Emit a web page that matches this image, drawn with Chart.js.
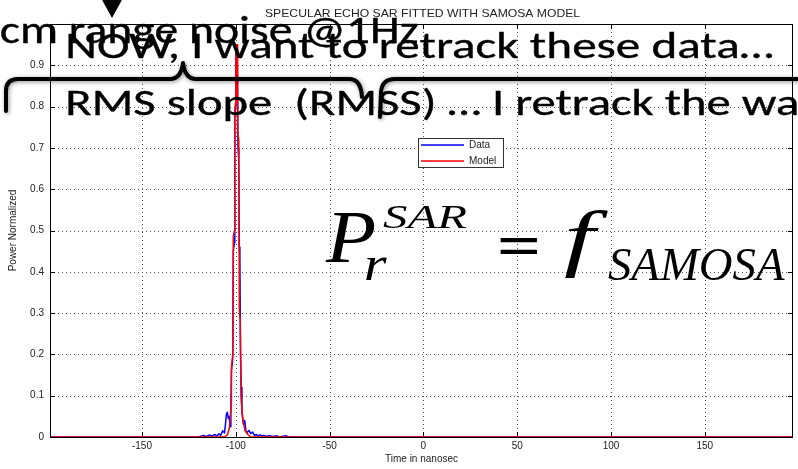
<!DOCTYPE html>
<html>
<head>
<meta charset="utf-8">
<script src="https://cdn.jsdelivr.net/npm/chart.js@4.4.1/dist/chart.umd.min.js"></script>
<style>
  html, body { margin: 0; padding: 0; background: #fff; }
  canvas { display: block; }
</style>
</head>
<body>
<canvas id="c" width="798" height="469"></canvas>
<script>
// Measured echo (time in ns, normalized power)
const dataTime = [-199, -120, -117, -116, -114, -113, -111, -110, -109, -108, -107, -106, -105.5, -105, -104.5, -104, -103.5, -103, -102.6, -102.3, -101.6, -101.3, -100.7, -100.5, -100.1, -99.9, -99.4, -99.1, -98.8, -98.4, -98.1, -97.8, -97.5, -97.1, -96.7, -96.3, -95.8, -95.2, -94.6, -94, -93, -92, -91, -90, -89, -88, -87, -86, -85, -84, -82, -80, -78, -77, -73, -72, 197];
const dataPower = [0, 0, 0.004, 0.001, 0.005, 0.002, 0.006, 0.002, 0.008, 0.004, 0.015, 0.01, 0.03, 0.055, 0.06, 0.045, 0.05, 0.025, 0.06, 0.16, 0.19, 0.45, 0.47, 0.78, 0.8, 0.93, 0.95, 0.89, 0.7, 0.67, 0.46, 0.44, 0.22, 0.12, 0.06, 0.045, 0.03, 0.04, 0.015, 0.01, 0.016, 0.008, 0.012, 0.004, 0.006, 0.003, 0.005, 0.002, 0.004, 0.002, 0.003, 0.001, 0.003, 0, 0.003, 0, 0];

// SAMOSA model fit
const modelTime = [-199, -106, -104.5, -103.5, -103, -102.5, -102.3, -101.6, -101.3, -100.7, -100.5, -100.1, -99.9, -99.3, -99.0, -98.4, -98.1, -97.6, -97.2, -96.6, -96, -95, -93.5, -92, 197];
const modelPower = [0, 0, 0.005, 0.02, 0.04, 0.08, 0.17, 0.2, 0.485, 0.5, 0.79, 0.81, 0.95, 0.95, 0.74, 0.72, 0.31, 0.28, 0.1, 0.06, 0.035, 0.015, 0.006, 0, 0];

const xTickValues = [-150, -100, -50, 0, 50, 100, 150];
const yTickValues = [0, 0.1, 0.2, 0.3, 0.4, 0.5, 0.6, 0.7, 0.8, 0.9];
const seriesNames = ['Data', 'Model'];
const seriesColors = ['#0000ff', '#ff0000'];

const chartTitle = 'SPECULAR ECHO SAR FITTED WITH SAMOSA MODEL';
const xAxisTitle = 'Time in nanosec';
const yAxisTitle = 'Power Normalized';

const slideLines = [
  'cm range noise @1Hz',
  'NOW, I want to retrack these data…',
  'RMS slope  (RMSS) … I retrack the waveforms'
];

Chart.defaults.font.family = "'Liberation Sans', Arial, sans-serif";

const slideFont = "'Carlito', 'Lato', 'Open Sans', sans-serif";
const mathFont = "'Liberation Serif', 'Times New Roman', serif";

// Draw text so that its ink spans x0..x1 horizontally (measured on `ref`)
function inkFitX(ctx, text, font, x0, x1, baseline, ref, weight) {
  ctx.save();
  ctx.font = font;
  const m = ctx.measureText(ref || text);
  const w = m.actualBoundingBoxLeft + m.actualBoundingBoxRight;
  const s = (x1 - x0) / w;
  ctx.textAlign = 'left';
  ctx.textBaseline = 'alphabetic';
  ctx.translate(x0 + m.actualBoundingBoxLeft * s, baseline);
  ctx.scale(s, 1);
  ctx.fillText(text, 0, 0);
  if (weight) {
    ctx.lineWidth = weight;
    ctx.strokeStyle = ctx.fillStyle;
    ctx.lineJoin = 'round';
    ctx.strokeText(text, 0, 0);
  }
  ctx.restore();
}

// Draw text so that its ink fills the box (x0,y0)-(x1,y1)
function inkBox(ctx, text, font, x0, y0, x1, y1) {
  ctx.save();
  ctx.font = font;
  const m = ctx.measureText(text);
  const w = m.actualBoundingBoxLeft + m.actualBoundingBoxRight;
  const h = m.actualBoundingBoxAscent + m.actualBoundingBoxDescent;
  const sx = (x1 - x0) / w;
  const sy = (y1 - y0) / h;
  ctx.textAlign = 'left';
  ctx.textBaseline = 'alphabetic';
  ctx.translate(x0 + m.actualBoundingBoxLeft * sx, y0 + m.actualBoundingBoxAscent * sy);
  ctx.scale(sx, sy);
  ctx.fillText(text, 0, 0);
  ctx.restore();
}

// Dotted grid, axes box and inward tick marks
const axesFrame = {
  id: 'axesFrame',
  beforeDatasetsDraw(chart) {
    const { ctx, chartArea: a, scales: { x, y } } = chart;
    ctx.save();
    ctx.strokeStyle = '#555';
    ctx.lineWidth = 1;
    ctx.setLineDash([1, 3]);
    xTickValues.forEach(v => {
      const px = Math.round(x.getPixelForValue(v)) + 0.5;
      ctx.beginPath(); ctx.moveTo(px, a.top); ctx.lineTo(px, a.bottom); ctx.stroke();
    });
    yTickValues.forEach(v => {
      if (v === 0) return;
      const py = Math.round(y.getPixelForValue(v)) + 0.5;
      ctx.beginPath(); ctx.moveTo(a.left, py); ctx.lineTo(a.right, py); ctx.stroke();
    });
    ctx.setLineDash([]);
    ctx.strokeStyle = '#000';
    xTickValues.forEach(v => {
      const px = Math.round(x.getPixelForValue(v)) + 0.5;
      ctx.beginPath();
      ctx.moveTo(px, a.bottom); ctx.lineTo(px, a.bottom - 5);
      ctx.moveTo(px, a.top); ctx.lineTo(px, a.top + 5);
      ctx.stroke();
    });
    yTickValues.forEach(v => {
      const py = Math.round(y.getPixelForValue(v)) + 0.5;
      ctx.beginPath();
      ctx.moveTo(a.left, py); ctx.lineTo(a.left + 5, py);
      ctx.moveTo(a.right, py); ctx.lineTo(a.right - 5, py);
      ctx.stroke();
    });
    ctx.restore();
  },
  afterDatasetsDraw(chart) {
    const { ctx, chartArea: a } = chart;
    ctx.save();
    ctx.strokeStyle = '#000';
    ctx.lineWidth = 1;
    ctx.strokeRect(Math.round(a.left) + 0.5, Math.round(a.top) + 0.5,
                   Math.round(a.right - a.left) - 1, Math.round(a.bottom - a.top));
    // title
    ctx.fillStyle = '#222';
    inkFitX(ctx, chartTitle, "11px 'Liberation Sans', Arial, sans-serif", 265, 580, 17);
    // legend
    const lx = 418, ly = 138, lw = 85, lh = 29;
    ctx.fillStyle = '#fff';
    ctx.fillRect(lx, ly, lw, lh);
    ctx.strokeStyle = '#333';
    ctx.lineWidth = 1;
    ctx.strokeRect(lx + 0.5, ly + 0.5, lw, lh);
    ctx.font = "10px 'Liberation Sans', Arial, sans-serif";
    ctx.textBaseline = 'middle';
    ctx.textAlign = 'left';
    seriesNames.forEach((name, i) => {
      const yy = ly + 7 + i * 16;
      ctx.strokeStyle = seriesColors[i];
      ctx.lineWidth = 1.3;
      ctx.beginPath(); ctx.moveTo(lx + 3, yy); ctx.lineTo(lx + 46, yy); ctx.stroke();
      ctx.fillStyle = '#222';
      ctx.fillText(name, lx + 51, yy);
    });
    ctx.restore();
  }
};

// Slide annotations laid over the plot
const slideOverlay = {
  id: 'slideOverlay',
  afterDraw(chart) {
    const ctx = chart.ctx;
    ctx.save();
    ctx.fillStyle = '#000';

    // arrow head at the top
    ctx.beginPath();
    ctx.moveTo(101, -2); ctx.lineTo(123, -2); ctx.lineTo(112, 18); ctx.closePath();
    ctx.fill();

    inkFitX(ctx, slideLines[0], "39px " + slideFont, 1, 418, 43, null, 0.35);
    inkFitX(ctx, slideLines[1], "37px " + slideFont, 68, 773, 58, null, 0.35);

    // horizontal curly braces
    ctx.save();
    ctx.strokeStyle = '#000';
    ctx.lineWidth = 4;
    ctx.lineCap = 'round';
    ctx.lineJoin = 'round';
    ctx.shadowColor = 'rgba(0,0,0,0.45)';
    ctx.shadowBlur = 4;
    ctx.shadowOffsetX = 1;
    ctx.shadowOffsetY = 1;
    ctx.beginPath();
    ctx.moveTo(6, 111);
    ctx.lineTo(6, 91);
    ctx.quadraticCurveTo(6, 79, 18, 79);
    ctx.lineTo(170, 79);
    ctx.quadraticCurveTo(181, 79, 183, 63);
    ctx.quadraticCurveTo(185, 79, 196, 79);
    ctx.lineTo(349, 79);
    ctx.quadraticCurveTo(361, 79, 362, 97);
    ctx.stroke();
    ctx.beginPath();
    ctx.moveTo(380, 117);
    ctx.lineTo(381, 92);
    ctx.quadraticCurveTo(382, 79, 395, 79);
    ctx.lineTo(805, 79);
    ctx.stroke();
    ctx.restore();

    inkFitX(ctx, slideLines[2], "37px " + slideFont, 68, 797, 115, 'RMS slope  (RMSS) … I retrack the wa', 0.35);

    // P_r^SAR = f_SAMOSA
    inkBox(ctx, 'P', "italic 74px " + mathFont, 325, 213, 375, 262);
    inkBox(ctx, 'SAR', "italic 36px " + mathFont, 383, 205, 467, 228);
    inkBox(ctx, 'r', "italic 48px " + mathFont, 365, 257, 387, 280);
    inkBox(ctx, '=', "bold 74px " + mathFont, 500, 237, 538, 253);
    inkBox(ctx, 'f', "italic 76px " + mathFont, 564, 210, 608, 278);
    inkBox(ctx, 'SAMOSA', "italic 45px " + mathFont, 608, 250, 785, 280);
    ctx.restore();
  }
};

const toPoints = (xs, ys) => xs.map((t, i) => ({ x: t, y: ys[i] }));

new Chart(document.getElementById('c').getContext('2d'), {
  type: 'line',
  data: {
    datasets: [
      {
        label: seriesNames[1],
        data: toPoints(modelTime, modelPower),
        borderColor: seriesColors[1],
        borderWidth: 1.5,
        pointRadius: 0,
        tension: 0,
        borderJoinStyle: 'round',
        order: 0
      },
      {
        label: seriesNames[0],
        data: toPoints(dataTime, dataPower),
        borderColor: seriesColors[0],
        borderWidth: 1.5,
        pointRadius: 0,
        tension: 0,
        borderJoinStyle: 'round',
        order: 1
      }
    ]
  },
  options: {
    animation: false,
    responsive: false,
    devicePixelRatio: 1,
    layout: { padding: { top: 24, right: 5, left: 0, bottom: 0 } },
    plugins: {
      legend: { display: false },
      title: { display: false },
      tooltip: { enabled: false }
    },
    scales: {
      x: {
        type: 'linear',
        min: -199,
        max: 197,
        afterBuildTicks: s => { s.ticks = xTickValues.map(v => ({ value: v })); },
        afterFit: s => { s.height = 32; },
        grid: { display: false, drawTicks: false },
        border: { display: false },
        ticks: { padding: 3, color: '#222', font: { size: 10 }, maxRotation: 0, callback: v => String(v) },
        title: { display: true, text: xAxisTitle, color: '#222', font: { size: 10 }, padding: { top: 0, bottom: 4 } }
      },
      y: {
        type: 'linear',
        min: 0,
        max: 1,
        afterBuildTicks: s => { s.ticks = yTickValues.map(v => ({ value: v })); },
        afterFit: s => { s.width = 50; },
        grid: { display: false, drawTicks: false },
        border: { display: false },
        ticks: { padding: 6, color: '#222', font: { size: 10 }, callback: v => (v === 0 ? '0' : v.toFixed(1)) },
        title: { display: true, text: yAxisTitle, color: '#222', font: { size: 10 }, padding: { top: 7, bottom: 0 } }
      }
    }
  },
  plugins: [axesFrame, slideOverlay]
});
</script>
</body>
</html>
